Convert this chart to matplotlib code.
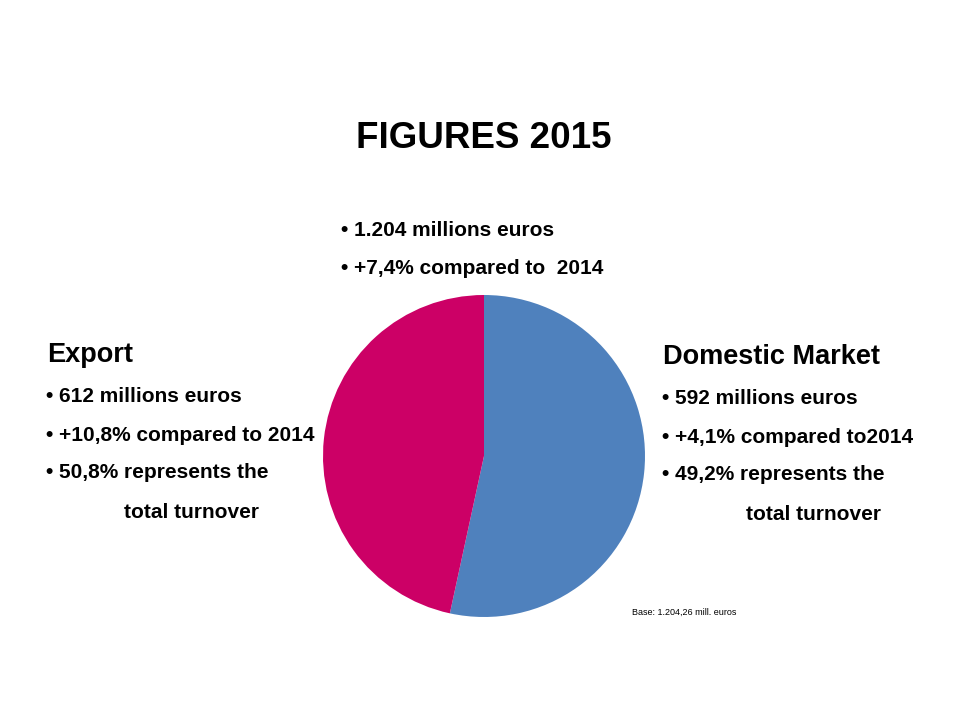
import matplotlib
matplotlib.use("Agg")
from matplotlib import pyplot as plt

#Data
labels = ["Domestic Market", "Export"]
shares = [53.4, 46.6]  #as drawn in the pie
colours = ["#4F81BD", "#CC0066"]

title = "FIGURES 2015"
topLines = ["• 1.204 millions euros", "• +7,4% compared to  2014"]
exportLines = ["• 612 millions euros", "• +10,8% compared to 2014", "• 50,8% represents the"]
domesticLines = ["• 592 millions euros", "• +4,1% compared to2014", "• 49,2% represents the"]
baseNote = "Base: 1.204,26 mill. euros"

W, H = 960, 720
fig = plt.figure(figsize=(W / 100, H / 100), dpi=100)
plt.rcParams["font.family"] = ["Liberation Sans", "DejaVu Sans"]

def px(x, y):
    """Convert pixel position (top-left origin) to figure fraction."""
    return x / W, 1 - y / H

def put(x, y, s, size, **kw):
    fx, fy = px(x, y)
    fig.text(fx, fy, s, fontsize=size, fontweight="bold", va="center", **kw)

#Pie
cx, cy, r = 484, 456, 161
ax = fig.add_axes([(cx - r) / W, 1 - (cy + r) / H, 2 * r / W, 2 * r / H])
ax.pie(shares, colors=colours, startangle=90, counterclock=False, radius=1)
ax.set_xlim(-1, 1)
ax.set_ylim(-1, 1)
ax.set_aspect("equal")
ax.axis("off")

#Texts
put(484, 139, title, 26.5, ha="center")
for i, s in enumerate(topLines):
    put(341, 230 + i * 39, s, 15)
put(47, 355, labels[1], 19.5)
for i, s in enumerate(exportLines):
    put(46, [396, 436, 473][i], s, 15)
put(124, 512, "total turnover", 15)
put(663, 357, labels[0], 19.5)
for i, s in enumerate(domesticLines):
    put(662, [398, 438, 475][i], s, 15)
put(746, 514, "total turnover", 15)
fx, fy = px(632, 612)
fig.text(fx, fy, baseNote, fontsize=6.5, va="center")

fig.savefig("out.png", dpi=100, facecolor="white")
